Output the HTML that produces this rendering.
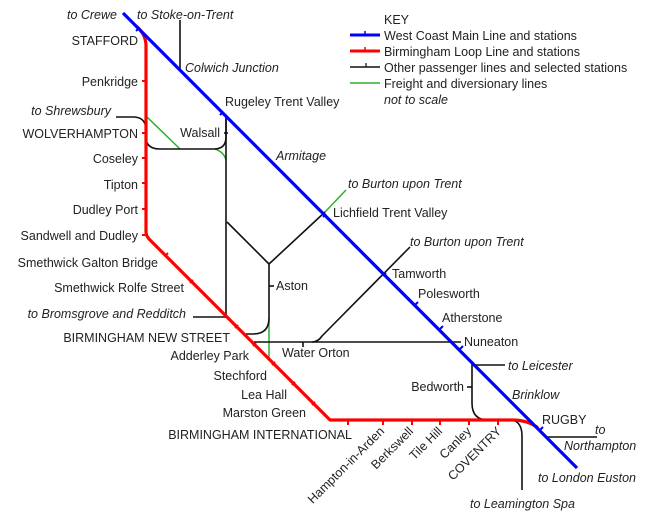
<!DOCTYPE html>
<html><head><meta charset="utf-8"><style>
html,body{margin:0;padding:0;background:#fff;}
svg{display:block;}
text{font-family:"Liberation Sans",sans-serif;font-size:12.5px;fill:#222;}
.i{font-style:italic;}
</style></head><body>
<svg width="659" height="512" viewBox="0 0 659 512" xmlns="http://www.w3.org/2000/svg">
<g fill="none" stroke-linejoin="round">
<g stroke="#2ab02a" stroke-width="1.5">
<path d="M147,117 L180,149"/>
<path d="M215,149 Q224,152 226,160"/>
<path d="M325,212 L346,190"/>
<path d="M269,318 L269,359"/>
</g>
<g stroke="#111" stroke-width="1.6">
<path d="M180,20 L180,70"/>
<path d="M116,117 L133,117 Q146,117 146,130 L146,137 Q146,149 160,149 L214,149 Q226,149 226,137 L226,117"/>
<path d="M226,117 L226,317"/>
<path d="M193,317 L227,317"/>
<path d="M227,222 L269,264 L269,318 Q269,334 253,334 L246,334"/>
<path d="M269,264 L325,212"/>
<path d="M254,342 L461,342"/>
<path d="M312,342 Q318,342 322,336 L410,247"/>
<path d="M472,362 L472,403 Q472,420 488,420"/>
<path d="M472,365 L505,365"/>
<path d="M512,420 Q522,422 522,436 L522,490"/>
<path d="M545,437 L597,437"/>
<path d="M224,133 L228,133"/><path d="M269,286 L274,286"/><path d="M303,342 L303,347"/><path d="M467,387 L472,387"/>
</g>
<g stroke="#f00" stroke-width="3.2">
<path d="M136,26 Q146,34 146,46 L146,232 Q146,236 150,240 L330,420 L512,420 Q528,420 538,428"/>
</g>
<g stroke="#f00" stroke-width="2">
<path d="M142,81 L146,81 M142,133 L146,133 M142,158 L146,158 M142,183 L146,183 M142,209 L146,209 M142,235 L146,235"/>
<path d="M165,256 L168,253 M190,283 L193,280 M235,328 L238,325 M253,346 L256,343 M272,365 L275,362 M292,385 L295,382 M312,405 L315,402"/>
<path d="M348,420 L348,425 M383,420 L383,425 M412,420 L412,425 M440,420 L440,425 M469,420 L469,425 M498,420 L498,425"/>
</g>
<g stroke="#00f" stroke-width="3.2"><path d="M123,13 L577,468"/></g>
<g stroke="#00f" stroke-width="2">
<path d="M136,31 L139,28 M220,115 L223,112 M323,217 L326,214 M383,276 L386,273 M415,305 L418,302 M440,329 L443,326 M460,349 L463,346 M540,430 L543,427"/>
</g>
<path d="M350,35 L380,35" stroke="#00f" stroke-width="3"/><path d="M365,31 L365,35" stroke="#00f" stroke-width="1.5"/>
<path d="M350,51 L380,51" stroke="#f00" stroke-width="3"/><path d="M365,47 L365,51" stroke="#f00" stroke-width="1.5"/>
<path d="M350,67 L380,67" stroke="#111" stroke-width="1.5"/><path d="M366,63 L366,67" stroke="#111" stroke-width="1.2"/>
<path d="M350,83 L380,83" stroke="#2ab02a" stroke-width="1.5"/>
</g>
<text x="384" y="24">KEY</text>
<text x="384" y="40">West Coast Main Line and stations</text>
<text x="384" y="56">Birmingham Loop Line and stations</text>
<text x="384" y="72">Other passenger lines and selected stations</text>
<text x="384" y="88">Freight and diversionary lines</text>
<text x="384" y="104" class="i">not to scale</text>

<text x="117" y="19" class="i" text-anchor="end">to Crewe</text>
<text x="137" y="19" class="i">to Stoke-on-Trent</text>
<text x="138" y="45" text-anchor="end">STAFFORD</text>
<text x="185" y="72" class="i">Colwich Junction</text>
<text x="138" y="86" text-anchor="end">Penkridge</text>
<text x="111" y="115" class="i" text-anchor="end">to Shrewsbury</text>
<text x="138" y="138" text-anchor="end">WOLVERHAMPTON</text>
<text x="220" y="137" text-anchor="end">Walsall</text>
<text x="225" y="106">Rugeley Trent Valley</text>
<text x="276" y="160" class="i">Armitage</text>
<text x="138" y="163" text-anchor="end">Coseley</text>
<text x="138" y="189" text-anchor="end">Tipton</text>
<text x="138" y="214" text-anchor="end">Dudley Port</text>
<text x="138" y="240" text-anchor="end">Sandwell and Dudley</text>
<text x="348" y="188" class="i">to Burton upon Trent</text>
<text x="333" y="217">Lichfield Trent Valley</text>
<text x="410" y="246" class="i">to Burton upon Trent</text>
<text x="158" y="267" text-anchor="end">Smethwick Galton Bridge</text>
<text x="184" y="292" text-anchor="end">Smethwick Rolfe Street</text>
<text x="276" y="290">Aston</text>
<text x="392" y="278">Tamworth</text>
<text x="418" y="298">Polesworth</text>
<text x="442" y="322">Atherstone</text>
<text x="186" y="318" class="i" text-anchor="end">to Bromsgrove and Redditch</text>
<text x="230" y="342" text-anchor="end">BIRMINGHAM NEW STREET</text>
<text x="464" y="346">Nuneaton</text>
<text x="249" y="360" text-anchor="end">Adderley Park</text>
<text x="282" y="357">Water Orton</text>
<text x="508" y="370" class="i">to Leicester</text>
<text x="267" y="380" text-anchor="end">Stechford</text>
<text x="287" y="399" text-anchor="end">Lea Hall</text>
<text x="464" y="391" text-anchor="end">Bedworth</text>
<text x="512" y="399" class="i">Brinklow</text>
<text x="306" y="417" text-anchor="end">Marston Green</text>
<text x="542" y="424">RUGBY</text>
<text x="595" y="434" class="i">to</text>
<text x="564" y="450" class="i">Northampton</text>
<text x="352" y="439" text-anchor="end">BIRMINGHAM INTERNATIONAL</text>
<text x="538" y="482" class="i">to London Euston</text>
<text x="470" y="508" class="i">to Leamington Spa</text>
<g>
<text transform="translate(385,432) rotate(-45)" text-anchor="end">Hampton-in-Arden</text>
<text transform="translate(414,432) rotate(-45)" text-anchor="end">Berkswell</text>
<text transform="translate(443,432) rotate(-45)" text-anchor="end">Tile Hill</text>
<text transform="translate(472,432) rotate(-45)" text-anchor="end">Canley</text>
<text transform="translate(502,432) rotate(-45)" text-anchor="end">COVENTRY</text>
</g>
</svg>
</body></html>
